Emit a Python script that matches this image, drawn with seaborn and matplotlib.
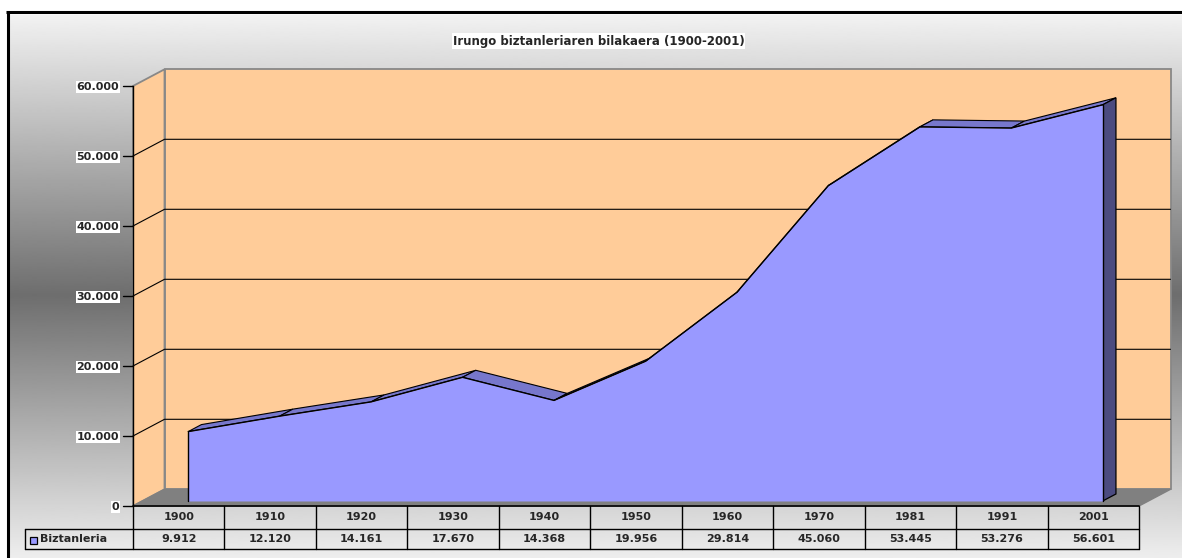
import numpy as np
import matplotlib
matplotlib.use("Agg")
import matplotlib.pyplot as plt
import seaborn as sns
from matplotlib.patches import Polygon, Rectangle
from matplotlib.transforms import IdentityTransform, Affine2D, blended_transform_factory

# ---------------- data ----------------
years = ["1900", "1910", "1920", "1930", "1940", "1950", "1960", "1970", "1981", "1991", "2001"]
population = [9912, 12120, 14161, 17670, 14368, 19956, 29814, 45060, 53445, 53276, 56601]
value_labels = ["9.912", "12.120", "14.161", "17.670", "14.368", "19.956",
                "29.814", "45.060", "53.445", "53.276", "56.601"]
y_ticks = [0, 10000, 20000, 30000, 40000, 50000, 60000]
y_tick_labels = ["0", "10.000", "20.000", "30.000", "40.000", "50.000", "60.000"]
title = "Irungo biztanleriaren bilakaera (1900-2001)"
series_name = "Biztanleria"

# ---------------- style ----------------
sns.set_style("white")
plt.rcParams['font.family'] = ['DejaVu Sans']
FS = 8
WALL = "#FFCC99"
FRONT = "#9999FF"
TOP = "#7777CC"
SIDE = "#4B4B80"
FLOOR = "#808080"
EDGE = "#888888"

W, H = 1182, 558
fig = plt.figure(figsize=(W / 100, H / 100), dpi=100)
fig.patch.set_facecolor("white")

# background gradient (chart area)
bg = fig.add_axes([0, 0, 1, 1], zorder=0)
bg.set_xlim(0, W)
bg.set_ylim(H, 0)
bg.axis("off")
rows = np.arange(15, H + 1)
mid, vmin = 295.0, 110.0
grad = np.where(rows < mid,
                vmin + (242 - vmin) * (mid - rows) / (mid - 15),
                vmin + (238 - vmin) * (rows - mid) / (H - mid))
bg.imshow(grad[:, None], cmap="gray", vmin=0, vmax=255, extent=[10, W, H, 15],
          aspect="auto", interpolation="bilinear")
bg.plot([7.5, 7.5], [11, H], color="black", lw=2.2, solid_capstyle="butt")
bg.plot([6.4, W], [12, 12], color="black", lw=2.2, solid_capstyle="butt")

# main (front-plane) axes
left_px, right_px, top_px, bot_px = 133, 1139, 86, 506
ax = fig.add_axes([left_px / W, (H - bot_px) / H, (right_px - left_px) / W, (bot_px - top_px) / H],
                  zorder=1)
ax.set_xlim(-0.5, len(years) - 0.5)
ax.set_ylim(0, 60000)
ax.axis("off")
ax.patch.set_visible(False)

DEPTH = np.array([31.5, 16.7])   # back-wall offset in pixels
F_D, B_D = 0.30, 0.72            # series front/back depth fraction
ID = IdentityTransform()
x = np.arange(len(years))
xl, xr = -0.5, len(years) - 0.5
ymax = y_ticks[-1]


def P(xv, v, d):
    return ax.transData.transform((xv, v)) + d * DEPTH


def poly(pts, **kw):
    p = Polygon(np.array(pts), closed=True, transform=ID, clip_on=False, **kw)
    ax.add_patch(p)
    return p


def line(pts, **kw):
    pts = np.array(pts)
    ax.plot(pts[:, 0], pts[:, 1], transform=ID, clip_on=False, **kw)


# walls and floor
poly([P(xl, 0, 1), P(xr, 0, 1), P(xr, ymax, 1), P(xl, ymax, 1)], fc=WALL, ec=EDGE, lw=1.3, zorder=1)
poly([P(xl, 0, 0), P(xl, ymax, 0), P(xl, ymax, 1), P(xl, 0, 1)], fc=WALL, ec=EDGE, lw=1.3, zorder=1)
poly([P(xl, 0, 0), P(xr, 0, 0), P(xr, 0, 1), P(xl, 0, 1)], fc=FLOOR, ec=FLOOR, lw=1, zorder=1.5)

# gridlines
for v in y_ticks[1:-1]:
    line([P(xl, v, 0), P(xl, v, 1), P(xr, v, 1)], color="black", lw=0.8, zorder=2)

# series: top ribbons
for i in range(len(x) - 1):
    poly([P(x[i], population[i], F_D), P(x[i + 1], population[i + 1], F_D),
          P(x[i + 1], population[i + 1], B_D), P(x[i], population[i], B_D)],
         fc=TOP, ec="black", lw=0.8, zorder=3)
# right side face
poly([P(x[-1], 0, F_D), P(x[-1], population[-1], F_D),
      P(x[-1], population[-1], B_D), P(x[-1], 0, B_D)], fc=SIDE, ec="black", lw=0.9, zorder=3)

# front face
ftr = ax.transData + Affine2D().translate(*(F_D * DEPTH))
ax.fill_between(x, population, 0, transform=ftr, color=FRONT, lw=0, clip_on=False, zorder=4)
sns.lineplot(x=x, y=population, ax=ax, color="black", lw=1, transform=ftr, clip_on=False, zorder=5)
ax.plot([x[0], x[0]], [0, population[0]], color="black", lw=1, transform=ftr, clip_on=False, zorder=5)
ax.plot([x[-1], x[-1]], [0, population[-1]], color="black", lw=1, transform=ftr, clip_on=False, zorder=5)

# value axis
line([P(xl, 0, 0), P(xl, ymax, 0)], color="black", lw=1, zorder=6)
for v, lab in zip(y_ticks, y_tick_labels):
    p = P(xl, v, 0)
    line([p - np.array([10, 0]), p], color="black", lw=1, zorder=6)
    ax.text(xl, v, lab, transform=ax.transData + Affine2D().translate(-14, -1),
            ha="right", va="center", fontsize=FS, fontweight="bold", clip_on=False, zorder=6,
            bbox=dict(fc="white", ec="none", pad=0.6))

# data table
base = P(xl, 0, 0)[1]
r1, r2 = base - 23, base - 43
legend_left = 25
blend = blended_transform_factory(ax.transData, ID)
line([P(xl, 0, 0), P(xr, 0, 0)], color="black", lw=1.2, zorder=6)
line([[legend_left, r1], [P(xr, 0, 0)[0], r1]], color="black", lw=1, zorder=6)
line([[legend_left, r2], [P(xr, 0, 0)[0], r2]], color="black", lw=1, zorder=6)
line([[legend_left, r1], [legend_left, r2]], color="black", lw=1, zorder=6)
for k in range(len(years) + 1):
    xx = P(k - 0.5, 0, 0)[0]
    line([[xx, base], [xx, r2]], color="black", lw=1, zorder=6)
for i, (yr, vl) in enumerate(zip(years, value_labels)):
    ax.text(i, (base + r1) / 2, yr, transform=blend, ha="center", va="center",
            fontsize=FS, fontweight="bold", clip_on=False, zorder=6)
    ax.text(i, (r1 + r2) / 2, vl, transform=blend, ha="center", va="center",
            fontsize=FS, fontweight="bold", clip_on=False, zorder=6)

# legend key in table
ax.add_patch(Rectangle((30, H - 544), 7, 7, transform=ID, fc=FRONT, ec="black", lw=0.9,
                       clip_on=False, zorder=6))
ax.text(40, (r1 + r2) / 2, series_name, transform=ID, ha="left", va="center",
        fontsize=FS, fontweight="bold", clip_on=False, zorder=6)

# title
fig.text(598.5 / W, 1 - 41 / H, title, ha="center", va="center", fontsize=8.5,
         fontweight="bold", bbox=dict(fc="white", ec="none", pad=0.8), zorder=3)

fig.savefig("out.png", dpi=100)
